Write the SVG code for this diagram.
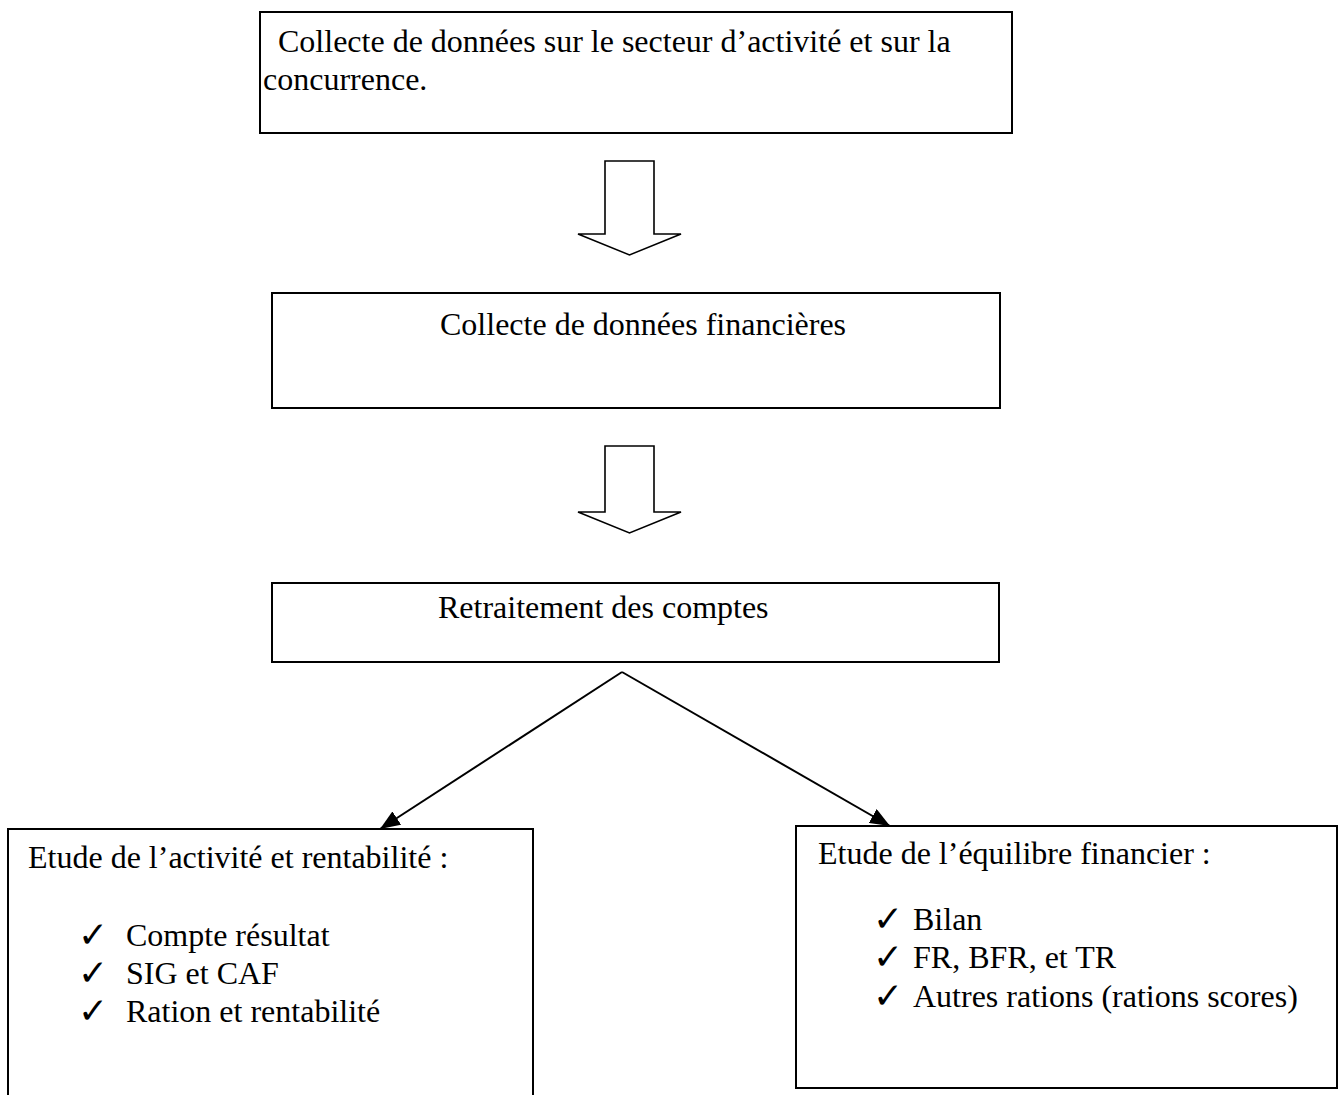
<svg xmlns="http://www.w3.org/2000/svg" width="1339" height="1095" viewBox="0 0 1339 1095">
<style>
.box{fill:#fff;stroke:#000;stroke-width:2}
.t{font-family:"Liberation Serif","Times New Roman",serif;font-size:32px;fill:#000}
.ck{font-family:"DejaVu Sans",sans-serif;font-size:36px;fill:#000}
.blk{fill:#fff;stroke:#000;stroke-width:1.6;stroke-linejoin:miter}
.ln{stroke:#000;stroke-width:2;fill:none}
</style>
<defs>
<marker id="ah2" viewBox="0 0 20 16" refX="20" refY="8" markerWidth="20" markerHeight="16" markerUnits="userSpaceOnUse" orient="auto">
<path d="M0,0 L20,8 L0,16 z" fill="#000"/>
</marker>
</defs>
<rect width="1339" height="1095" fill="#fff"/>
<g id="n1">
<rect class="box" x="260" y="12" width="752" height="121"/>
<text class="t" x="278" y="52">Collecte de données sur le secteur d’activité et sur la</text>
<text class="t" x="263" y="90">concurrence.</text>
</g>
<g id="n2">
<rect class="box" x="272" y="293" width="728" height="115"/>
<text class="t" x="440" y="335">Collecte de données financières</text>
</g>
<g id="n3">
<rect class="box" x="272" y="583" width="727" height="79"/>
<text class="t" x="438" y="618">Retraitement des comptes</text>
</g>
<g id="n4">
<path class="box" d="M8,1096 L8,829 L533,829 L533,1096"/>
<text class="t" x="28" y="868">Etude de l’activité et rentabilité :</text>
<text class="ck" x="78" y="947">✓</text>
<text class="t" x="126" y="946">Compte résultat</text>
<text class="ck" x="78" y="985">✓</text>
<text class="t" x="126" y="984">SIG et CAF</text>
<text class="ck" x="78" y="1023">✓</text>
<text class="t" x="126" y="1022">Ration et rentabilité</text>
</g>
<g id="n5">
<rect class="box" x="796" y="826" width="541" height="262"/>
<text class="t" x="818" y="864">Etude de l’équilibre financier :</text>
<text class="ck" x="873" y="931">✓</text>
<text class="t" x="913" y="930">Bilan</text>
<text class="ck" x="873" y="969">✓</text>
<text class="t" x="913" y="968">FR, BFR, et TR</text>
<text class="ck" x="873" y="1008">✓</text>
<text class="t" x="913" y="1007">Autres rations (rations scores)</text>
</g>
<g id="connectors">
<path class="blk" d="M605,161 L654,161 L654,234 L681,234 L629.5,255 L578,234 L605,234 Z"/>
<path class="blk" d="M605,446 L654,446 L654,512 L681,512 L629.5,533 L578,512 L605,512 Z"/>
<path class="ln" d="M622,672 L380,829" marker-end="url(#ah2)"/>
<path class="ln" d="M622,672 L890,826" marker-end="url(#ah2)"/>
</g>
</svg>
